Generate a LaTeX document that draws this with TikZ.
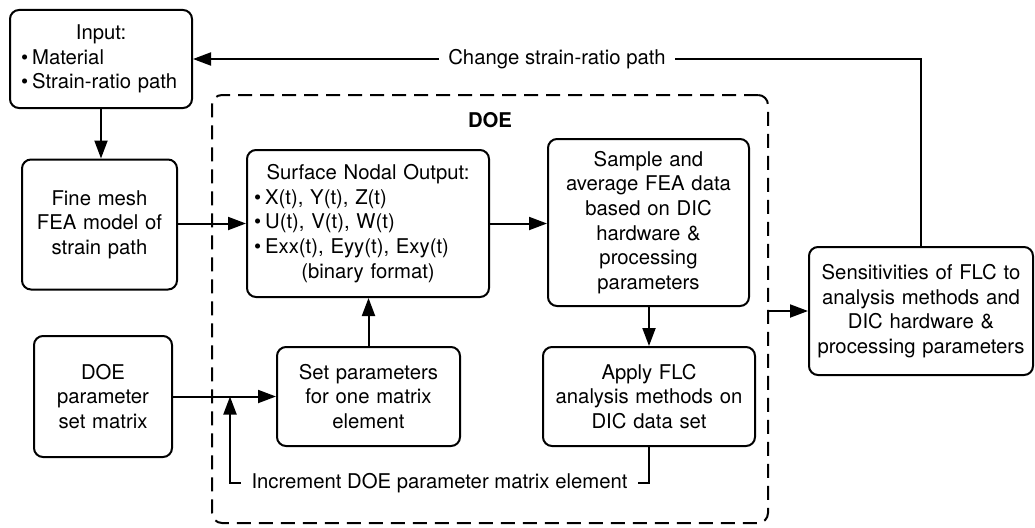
\documentclass[tikz,border=0pt]{standalone}
\usepackage{fontspec}
\setmainfont{TeX Gyre Heros}
\usetikzlibrary{arrows.meta,calc}
\newcommand{\fs}{\fontsize{20.3}{24.6}\selectfont}
\newcommand{\bul}{\textbullet\hspace{4pt}}
\tikzset{
  box/.style={draw, line width=2pt, rounded corners=9pt, align=center, inner xsep=4pt, inner ysep=0pt, font=\fs},
  arr/.style={line width=2pt, -{Triangle[length=18pt,width=13pt]}},
  lbl/.style={fill=white, font=\fs, inner ysep=2pt},
}
\begin{document}
\begin{tikzpicture}[x=1pt,y=-1pt]
\useasboundingbox (0,0) rectangle (1035,527);
% DOE frame
\node[draw, line width=2pt, dash pattern=on 14pt off 8pt, rounded corners=10pt,
      minimum width=556pt, minimum height=428pt, inner sep=0pt] (doebox) at (490,309) {};
\node[font=\fs\bfseries] (doelbl) at (490,120) {DOE};
% boxes
\node[box, align=left, inner xsep=11pt, text width=160pt, minimum height=98pt] (input) at (101,59)
  {\makebox[\linewidth][c]{Input:}\\\bul Material\\\bul Strain-ratio path};
\node[box, text width=147pt, minimum height=130pt] (fine) at (99.5,224.5)
  {Fine mesh\\FEA model of\\strain path};
\node[box, align=left, inner xsep=7pt, text width=228pt, minimum height=147pt] (surf) at (368,223.5)
  {\makebox[\linewidth][c]{Surface Nodal Output:}\\\bul X(t), Y(t), Z(t)\\\bul U(t), V(t), W(t)\\\bul Exx(t), Eyy(t), Exy(t)\\\makebox[\linewidth][c]{(binary format)}};
\node[box, text width=193pt, minimum height=167pt] (samp) at (648.5,222.5)
  {Sample and\\average FEA data\\based on DIC\\hardware \&\\processing\\parameters};
\node[box, text width=130pt, minimum height=121pt] (doep) at (103,396.5)
  {DOE\\parameter\\set matrix};
\node[box, text width=175pt, minimum height=99pt] (setp) at (368.5,396.5)
  {Set parameters\\for one matrix\\element};
\node[box, text width=204pt, minimum height=99pt] (apply) at (649,396.5)
  {Apply FLC\\analysis methods on\\DIC data set};
\node[box, text width=216pt, minimum height=128pt] (sens) at (921,311)
  {Sensitivities of FLC to\\analysis methods and\\DIC hardware \&\\processing parameters};
\coordinate (inc) at (230,483);
% connectors
\draw[arr] (input.south) -- (input.south |- fine.north);
\draw[arr] (fine.east |- surf.west) -- (surf.west);
\draw[arr] (surf.east) -- (surf.east -| samp.west);
\draw[arr] (samp.south -| apply.north) -- (apply.north);
\draw[arr] (doep.east) -- (setp.west);
\draw[arr] (setp.north) -- (setp.north |- surf.south);
\draw[arr] (apply.south) -- (apply.south |- inc)
  -- node[lbl, inner xsep=11pt] {Increment DOE parameter matrix element} (inc)
  -- (inc |- doep.east);
\draw[arr] (sens.north) -- (sens.north |- input.east)
  -- node[lbl, inner xsep=9pt] {Change strain-ratio path} (input.east);
\draw[arr] (doebox.east |- sens.west) -- (sens.west);
\end{tikzpicture}
\end{document}
